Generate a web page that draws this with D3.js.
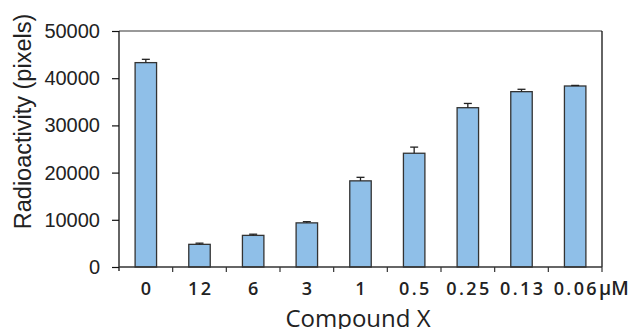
<!DOCTYPE html>
<html>
<head>
<meta charset="utf-8">
<script src="https://cdn.jsdelivr.net/npm/d3@7"></script>
<style>
  body { margin: 0; background: #fff; }
  svg { display: block; }
</style>
</head>
<body>
<svg width="632" height="329"></svg>
<script>
  var categories = ['0', '12', '6', '3', '1', '0.5', '0.25', '0.13', '0.06'];
  var values = [43300, 4800, 6700, 9350, 18250, 24100, 33750, 37150, 38350];
  var errors = [700, 250, 250, 250, 750, 1300, 900, 500, 120];
  var yTicks = [0, 10000, 20000, 30000, 40000, 50000];

  var svg = d3.select('svg');
  var mLeft = 119, mRight = 602, mTop = 31, mBottom = 267;

  var x = d3.scaleBand().domain(categories).range([mLeft, mRight]).paddingInner(0.6).paddingOuter(0.3);
  var y = d3.scaleLinear().domain([0, 50000]).range([mBottom, mTop]);

  // frame: top gray, right black
  svg.append('line').attr('x1', mLeft).attr('x2', mRight).attr('y1', mTop).attr('y2', mTop)
    .attr('stroke', '#777').attr('stroke-width', 1.3);
  svg.append('line').attr('x1', mRight).attr('x2', mRight).attr('y1', mTop).attr('y2', mBottom)
    .attr('stroke', '#111').attr('stroke-width', 1.3);

  // bars
  svg.selectAll('rect.bar').data(values).enter().append('rect')
    .attr('class', 'bar')
    .attr('x', function(d, i) { return x(categories[i]); })
    .attr('y', function(d) { return y(d); })
    .attr('width', x.bandwidth())
    .attr('height', function(d) { return mBottom - y(d); })
    .attr('fill', '#8fbfe8')
    .attr('stroke', '#333')
    .attr('stroke-width', 1.3);

  // error bars
  var eg = svg.append('g').attr('stroke', '#222').attr('stroke-width', 1.3);
  values.forEach(function(v, i) {
    var cx = x(categories[i]) + x.bandwidth() / 2;
    eg.append('line').attr('x1', cx).attr('x2', cx).attr('y1', y(v)).attr('y2', y(v + errors[i]));
    eg.append('line').attr('x1', cx - 4).attr('x2', cx + 4).attr('y1', y(v + errors[i])).attr('y2', y(v + errors[i]));
  });

  // y axis
  var yAxis = svg.append('g').attr('transform', 'translate(' + mLeft + ',0)')
    .call(d3.axisLeft(y).tickValues(yTicks).tickSize(7).tickPadding(12).tickFormat(d3.format('d')));
  yAxis.select('.domain').attr('stroke', '#111').attr('stroke-width', 1.3).attr('d', 'M0,' + mTop + 'V' + (mBottom + 4));
  yAxis.selectAll('.tick line').attr('stroke', '#111').attr('stroke-width', 1.2);
  yAxis.selectAll('text').attr('font-family', 'Liberation Sans, Arial, sans-serif')
    .attr('font-size', 20).attr('fill', '#222');

  // x axis: ticks at band boundaries
  var step = x.step();
  var bounds = d3.range(categories.length + 1).map(function(i) { return mLeft + i * step; });
  svg.append('line').attr('x1', mLeft).attr('x2', mRight).attr('y1', mBottom).attr('y2', mBottom)
    .attr('stroke', '#333').attr('stroke-width', 1.3);
  svg.selectAll('line.xt').data(bounds.slice(1)).enter().append('line')
    .attr('class', 'xt')
    .attr('x1', function(d) { return d; }).attr('x2', function(d) { return d; })
    .attr('y1', mBottom).attr('y2', mBottom + 5)
    .attr('stroke', '#333').attr('stroke-width', 1.2);

  svg.selectAll('text.xl').data(categories).enter().append('text')
    .attr('class', 'xl')
    .attr('x', function(d) { return x(d) + x.bandwidth() / 2 + 1.2; })
    .attr('y', 295)
    .attr('text-anchor', 'middle')
    .attr('font-family', 'Open Sans, sans-serif')
    .attr('font-weight', 600)
    .attr('font-size', 18)
    .attr('letter-spacing', 2.4)
    .attr('fill', '#222')
    .text(function(d) { return d; });

  svg.append('text').attr('x', 599).attr('y', 295)
    .attr('font-family', 'Open Sans, sans-serif').attr('font-weight', 600)
    .attr('font-size', 19).attr('fill', '#222').text('\u03bcM');

  svg.append('text').attr('x', 358).attr('y', 327)
    .attr('text-anchor', 'middle')
    .attr('font-family', 'Open Sans, sans-serif')
    .attr('font-size', 24).attr('fill', '#222')
    .text('Compound X');

  svg.append('text')
    .attr('transform', 'translate(30.5,121.5) rotate(-90)')
    .attr('text-anchor', 'middle')
    .attr('font-family', 'Liberation Sans, Arial, sans-serif')
    .attr('font-size', 23.5).attr('fill', '#222')
    .text('Radioactivity (pixels)');
</script>
</body>
</html>
